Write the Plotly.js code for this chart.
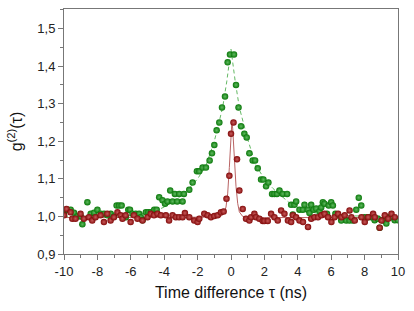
<!DOCTYPE html>
<html>
<head>
<meta charset="utf-8">
<script src="https://cdn.plot.ly/plotly-3.0.1.min.js"></script>
<style>html,body{margin:0;padding:0;background:#fff;}#chart{width:414px;height:311px;}</style>
</head>
<body>
<div id="chart"></div>
<script>
// Green series (broad bunching peak)
const greenT = [-10.0,-9.8,-9.6,-9.4,-9.2,-9.0,-8.9,-8.6,-8.4,-8.2,-8.0,-7.8,-7.6,-7.4,-7.2,-7.0,-6.85,-6.7,-6.55,-6.3,-6.15,-6.05,-5.9,-5.7,-5.5,-5.4,-5.3,-5.1,-4.95,-4.8,-4.6,-4.45,
  -4.3,-4.1,-3.95,-3.8,-3.64,-3.5,-3.36,-3.22,-3.1,-2.9,-2.82,-2.5,-2.3,-2.04,-1.9,-1.7,-1.5,-1.28,-1.14,-1.0,-0.86,-0.7,-0.54,-0.36,-0.2,-0.06,0.18,
  0.3,0.45,0.6,0.8,0.94,1.1,1.3,1.44,1.6,1.8,1.94,2.1,2.24,2.46,2.6,2.75,2.9,3.1,3.36,
  3.6,3.7,3.8,3.9,4.1,4.3,4.4,4.6,4.7,4.8,4.95,5.1,5.3,5.4,5.5,5.6,5.75,5.85,6.0,6.1,6.25,6.4,6.6,6.9,7.1,7.3,7.5,7.65,7.8,8.0,8.2,8.4,8.6,8.8,8.9,9.1,9.3,9.4,9.6,9.8,10.0];
const greenG = [1.005,1.018,1.018,1.010,1.000,1.000,0.979,1.038,1.007,1.010,1.018,1.007,1.007,1.003,1.007,1.000,1.029,1.029,1.029,0.998,1.018,1.018,1.007,1.007,1.007,0.998,0.990,1.011,1.011,1.011,1.018,1.018,
  1.051,1.043,1.034,1.040,1.069,1.040,1.060,1.040,1.060,1.040,1.060,1.071,1.090,1.120,1.120,1.130,1.130,1.149,1.168,1.190,1.229,1.250,1.290,1.319,1.410,1.431,1.431,
  1.350,1.290,1.240,1.220,1.210,1.168,1.149,1.149,1.128,1.098,1.098,1.080,1.090,1.060,1.060,1.060,1.069,1.060,1.060,
  1.031,1.005,1.031,1.040,1.018,1.018,1.031,1.018,1.009,1.031,1.018,1.021,1.014,1.024,1.038,1.034,1.007,1.029,1.038,1.029,1.007,1.003,0.989,0.989,0.989,0.989,1.018,1.050,1.029,0.998,0.998,0.998,0.990,0.994,0.970,0.989,0.981,0.998,0.998,0.990,0.990];

// Red series (narrow peak)
const redT = [-10.0,-9.85,-9.61,-9.5,-9.31,-9.01,-8.81,-8.51,-8.31,-8.11,-7.81,-7.61,-7.41,-7.21,-7.01,-6.80,-6.61,-6.50,-6.31,-6.01,-5.81,-5.60,-5.30,-5.00,-4.80,-4.61,-4.40,-4.20,-3.90,-3.71,-3.50,-3.30,-3.11,-2.90,-2.76,-2.50,-2.20,-2.00,-1.90,-1.60,-1.40,-1.20,-1.00,-0.80,-0.60,-0.44,
  -0.27,-0.10,0.0,0.15,0.36,0.50,0.70,
  0.90,1.10,1.20,1.40,1.50,1.70,1.90,2.00,2.20,2.40,2.60,2.80,3.00,3.20,3.41,3.60,3.71,3.90,4.10,4.31,4.61,4.80,5.00,5.21,5.41,5.60,5.81,6.01,6.20,6.41,6.61,6.81,7.10,7.21,7.41,7.81,8.01,8.21,8.51,8.61,8.90,9.01,9.21,9.41,9.61,9.81];
const redG = [1.003,1.020,1.011,0.994,0.994,1.007,0.994,0.998,0.989,0.998,1.003,0.985,1.007,0.989,0.998,1.011,1.003,0.994,1.003,0.985,1.003,0.994,0.989,0.998,1.007,1.003,1.007,1.003,1.003,0.989,1.003,0.998,0.998,0.998,1.009,0.998,0.989,0.985,0.994,1.007,1.003,0.998,1.001,1.003,1.011,1.013,
  1.047,1.108,1.220,1.250,1.152,1.069,1.020,
  0.994,0.989,0.998,1.007,0.998,0.994,0.988,0.988,0.988,1.007,0.998,0.989,1.016,1.007,0.989,0.985,1.003,0.998,0.989,0.985,0.972,0.994,0.998,0.998,1.003,1.007,0.998,0.985,0.998,1.007,0.998,1.003,1.016,0.998,0.989,0.998,0.985,0.998,1.007,0.998,0.970,0.989,1.003,0.994,1.007,0.998];

// Fit curves
const greenFitT = [-10,-6,-5,-4.5,-4,-3.5,-3,-2.5,-2,-1.5,-1,-0.5,-0.25,0,0.25,0.5,1,1.5,2,2.5,3,3.5,4,4.5,5,6,10];
const greenFitG = [1.000,1.002,1.010,1.015,1.025,1.038,1.055,1.075,1.100,1.135,1.200,1.290,1.360,1.445,1.360,1.290,1.205,1.135,1.100,1.075,1.055,1.036,1.025,1.015,1.010,1.002,1.000];
const redFitT = [-10,-2,-1,-0.6,-0.4,-0.3,-0.2,-0.1,0,0.05,0.1,0.2,0.3,0.4,0.5,0.7,1,2,10];
const redFitG = [0.997,0.997,0.998,1.000,1.010,1.025,1.060,1.130,1.220,1.250,1.235,1.150,1.080,1.035,1.012,1.000,0.997,0.997,0.997];

const xTickVals = [-10,-8,-6,-4,-2,0,2,4,6,8,10];
const yTickVals = [0.9,1.0,1.1,1.2,1.3,1.4,1.5];

const GREEN = 'rgb(10,120,10)';
const RED = 'rgb(130,10,10)';

const traces = [
  {x: greenFitT, y: greenFitG, mode: 'lines', line: {color: 'rgb(100,185,100)', width: 1, dash: '4px,3px'}, hoverinfo: 'skip'},
  {x: redFitT, y: redFitG, mode: 'lines', line: {color: 'rgb(185,100,100)', width: 1}, hoverinfo: 'skip'},
  {x: greenT, y: greenG, mode: 'markers', marker: {size: 6.5, color: GREEN, gradient: {type: 'radial', color: 'rgb(95,185,95)'}, line: {width: 0}}},
  {x: redT, y: redG, mode: 'markers', marker: {size: 6.5, color: RED, gradient: {type: 'radial', color: 'rgb(200,90,90)'}, line: {width: 0}}}
];

const axisCommon = {
  showgrid: false, zeroline: false, showline: true, linecolor: '#777', linewidth: 1, mirror: true,
  ticks: 'outside', ticklen: 5, tickcolor: '#777', tickwidth: 1,
  tickfont: {family: 'Liberation Sans, Arial, sans-serif', size: 13, color: '#222'}
};

const layout = {
  width: 414, height: 311,
  margin: {l: 64, r: 16, t: 9, b: 57},
  paper_bgcolor: '#fff', plot_bgcolor: '#fff',
  showlegend: false,
  separators: ', ',
  xaxis: Object.assign({}, axisCommon, {
    range: [-10, 10], tickvals: xTickVals, ticktext: xTickVals.map(String),
    minor: {dtick: 1, ticks: 'outside', ticklen: 3, tickcolor: '#777', showgrid: false},
    title: {text: 'Time difference τ (ns)', font: {family: 'Liberation Sans, Arial, sans-serif', size: 16, color: '#111'}, standoff: 9}
  }),
  yaxis: Object.assign({}, axisCommon, {
    range: [0.9, 1.552], tickvals: yTickVals, tickformat: '.1f',
    minor: {dtick: 0.05, ticks: 'outside', ticklen: 3, tickcolor: '#777', showgrid: false},
    title: {text: 'g<sup>(2)</sup>(τ)', font: {family: 'Liberation Sans, Arial, sans-serif', size: 16, color: '#111'}, standoff: 10}
  })
};

Plotly.newPlot('chart', traces, layout, {staticPlot: true, displayModeBar: false});
</script>
</body>
</html>
